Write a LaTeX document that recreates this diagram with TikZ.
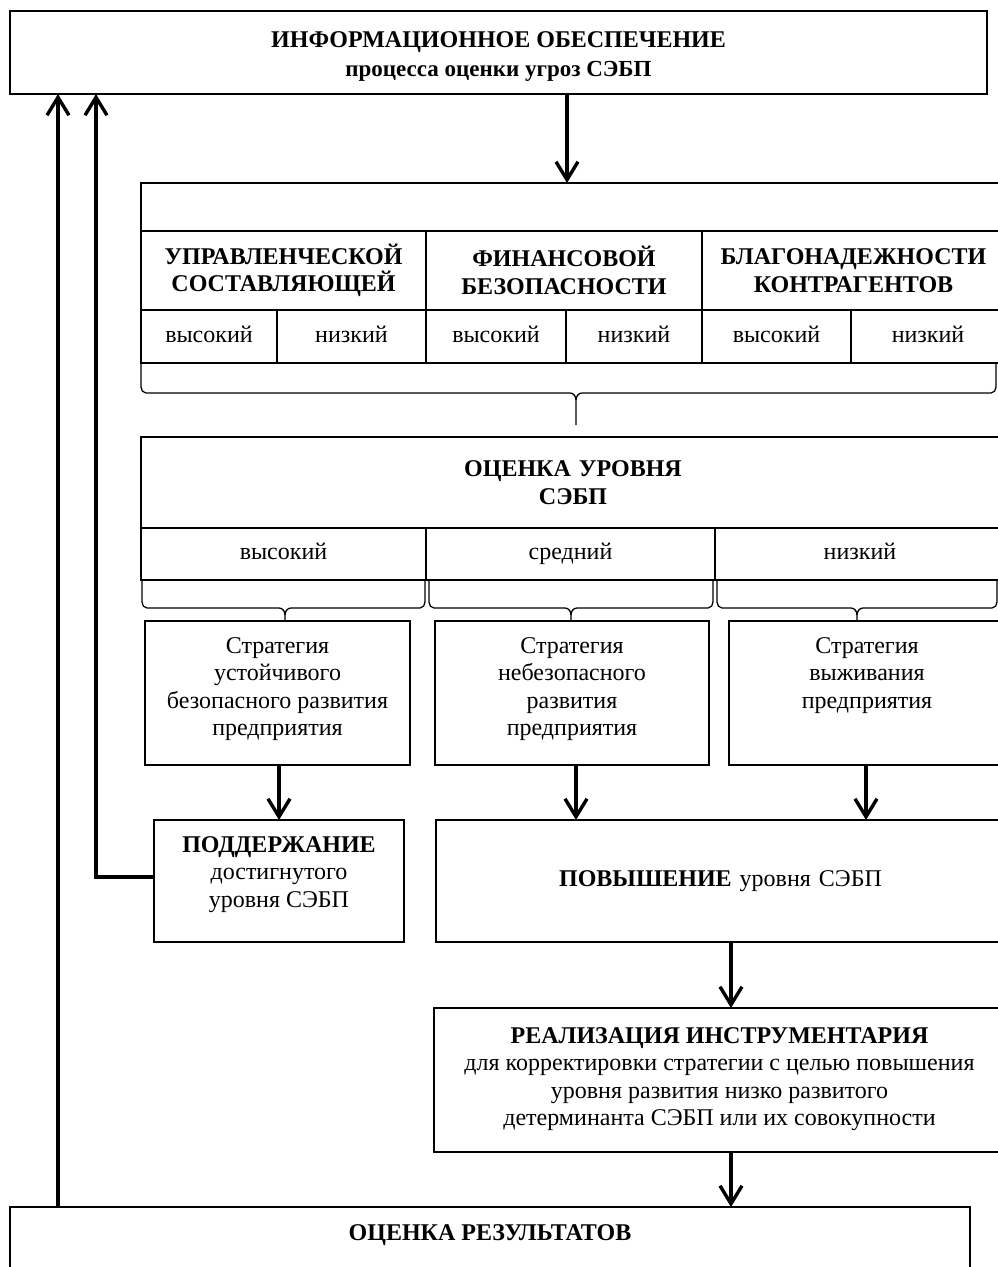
\documentclass[tikz,border=0pt]{standalone}
\usepackage{fontspec}
\setmainfont{Liberation Serif}
\usetikzlibrary{arrows.meta,calc}
\begin{document}
\begin{tikzpicture}[x=1pt,y=-1pt,
  box/.style={draw,line width=1.3pt,anchor=north west,inner sep=0pt,outer sep=0pt,align=center},
  arr/.style={line width=3.4pt,-{Straight Barb[length=18pt,width=22pt,line width=3.4pt]}},
  brc/.style={line width=1.3pt},
  body/.style={font=\fontsize{24}{27.5}\selectfont},
  head/.style={font=\fontsize{24}{27.5}\selectfont\bfseries},
  txt/.style={align=center,inner sep=0pt}]
\useasboundingbox (0,0) rectangle (998,1267);
% generic box: name, x1, y1, x2, y2, style, text
\newcommand\bx[7]{\node[box,#6,minimum width={#4-#2},minimum height={#5-#3},text width={#4-#2-8}] (#1) at (#2,#3) {#7};}
\def\R{1005}
\bx{top}{10}{11}{987}{94}{head}{}
\node[txt,anchor=north,font=\fontsize{24}{29}\selectfont\bfseries] (t0) at ($(top.north)+(0,20)$) {ИНФОРМАЦИОННОЕ ОБЕСПЕЧЕНИЕ\\{\fontsize{23}{29}\selectfont процесса оценки угроз СЭБП}};
% table
\bx{tab}{141}{183}{\R}{231}{body}{}
\bx{c1}{141}{231}{426}{310}{head}{УПРАВЛЕНЧЕСКОЙ\\СОСТАВЛЯЮЩЕЙ}
\bx{c2}{426}{231}{702}{310}{head}{ФИНАНСОВОЙ\\БЕЗОПАСНОСТИ}
\bx{c3}{702}{231}{\R}{310}{head}{БЛАГОНАДЕЖНОСТИ\\КОНТРАГЕНТОВ}
\bx{s1}{141}{310}{277}{363}{body}{\strut высокий}
\bx{s2}{277}{310}{426}{363}{body}{\strut низкий}
\bx{s3}{426}{310}{566}{363}{body}{\strut высокий}
\bx{s4}{566}{310}{702}{363}{body}{\strut низкий}
\bx{s5}{702}{310}{851}{363}{body}{\strut высокий}
\bx{s6}{851}{310}{\R}{363}{body}{\strut низкий}
% level
\bx{lev}{141}{437}{\R}{528}{head}{ОЦЕНКА УРОВНЯ\\СЭБП}
\bx{l1}{141}{528}{426}{580}{body}{\strut высокий}
\bx{l2}{426}{528}{715}{580}{body}{\strut средний}
\bx{l3}{715}{528}{\R}{580}{body}{\strut низкий}
% strategies
\bx{st1}{145}{621}{410}{765}{body}{}
\bx{st2}{435}{621}{709}{765}{body}{}
\bx{st3}{729}{621}{\R}{765}{body}{}
\node[txt,body,anchor=north] (t1) at ($(st1.north)+(0,16)$) {Стратегия\\устойчивого\\безопасного развития\\предприятия};
\node[txt,body,anchor=north] (t2) at ($(st2.north)+(0,16)$) {Стратегия\\небезопасного\\развития\\предприятия};
\node[txt,body,anchor=north] (t3) at ($(st3.north)+(0,16)$) {Стратегия\\выживания\\предприятия};
% actions
\bx{sup}{154}{820}{404}{942}{body}{}
\node[txt,body,anchor=north] (t6) at ($(sup.north)+(0,16)$) {\textbf{ПОДДЕРЖАНИЕ}\\достигнутого\\уровня СЭБП};
\bx{inc}{436}{820}{\R}{942}{body}{\textbf{ПОВЫШЕНИЕ} уровня СЭБП}
\bx{real}{434}{1008}{\R}{1152}{body}{}
\node[txt,body,anchor=north] (t4) at ($(real.north)+(0,19)$) {\textbf{РЕАЛИЗАЦИЯ ИНСТРУМЕНТАРИЯ}\\для корректировки стратегии с целью повышения\\уровня развития низко развитого\\детерминанта СЭБП или их совокупности};
\bx{res}{10}{1207}{970}{1300}{head}{}
\node[txt,head,anchor=north] (t5) at ($(res.north)+(0,17)$) {ОЦЕНКА РЕЗУЛЬТАТОВ};
% braces
\newcommand\mybrace[6]{% x1 x2 xm ytop ymid ytip
  \draw[brc] (#1,#4) -- (#1,#5-6) to[out=-90,in=180] (#1+5,#5) -- (#3-6,#5) to[out=0,in=90] (#3,#5+7) -- (#3,#6);
  \draw[brc] (#2,#4) -- (#2,#5-6) to[out=-90,in=0] (#2-5,#5) -- (#3+6,#5) to[out=180,in=90] (#3,#5+7);}
\mybrace{141}{996}{576}{363}{393}{425}
\mybrace{142}{425}{285}{580}{608}{621}
\mybrace{429}{713}{571}{580}{608}{621}
\mybrace{717}{997}{857}{580}{608}{621}
% arrows
\coordinate (xa) at (567,0);
\coordinate (xb) at (279,0);
\coordinate (xc) at (576,0);
\coordinate (xd) at (866,0);
\coordinate (xe) at (731,0);
\coordinate (xf) at (58,0);
\coordinate (xg) at (96,0);
\coordinate (yg) at (0,877);
\draw[arr] (top.south -| xa) -- (tab.north -| xa);
\draw[arr] (st1.south -| xb) -- (sup.north -| xb);
\draw[arr] (st2.south -| xc) -- (inc.north -| xc);
\draw[arr] (st3.south -| xd) -- (inc.north -| xd);
\draw[arr] (inc.south -| xe) -- (real.north -| xe);
\draw[arr] (real.south -| xe) -- (res.north -| xe);
\draw[arr] (res.north -| xf) -- (top.south -| xf);
\draw[arr] (sup.west |- yg) -| (top.south -| xg);
\end{tikzpicture}
\end{document}
